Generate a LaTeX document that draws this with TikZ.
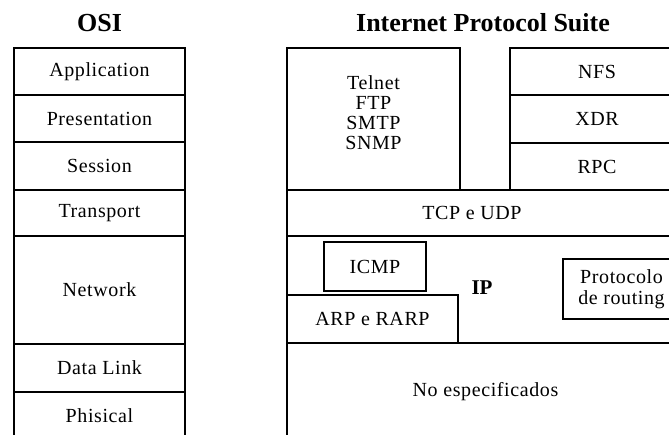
\documentclass[tikz,border=0pt]{standalone}
\usepackage{fontspec}
\setmainfont{Liberation Serif}
\newfontfamily\spaced{Liberation Serif}[LetterSpace=3]
\tikzset{%
    layer/.style={draw, rectangle, line width=2.2pt, inner sep=0pt,
        font=\spaced\fontsize{20}{21}\selectfont},
    txt/.style={inner sep=0pt, font=\spaced\fontsize{20}{20}\selectfont},
    head/.style={inner sep=0pt, font=\bfseries\fontsize{26}{30}\selectfont}
}

\begin{document}
\begin{tikzpicture}[x=1pt, y=-1pt]
  \useasboundingbox (0,0) rectangle (669,434);
  \clip (0,0) rectangle (669,434);

  \node[head] (osi) at (99.5,23) {OSI};
  \node[head] (ips) at (483,23) {Internet Protocol Suite};

  \node[layer, minimum width=171pt, minimum height=47pt] (app) at (99.5,71.5) {Application};
  \node[layer, minimum width=171pt, minimum height=47pt] (pres) at (99.5,118.5) {Presentation};
  \node[layer, minimum width=171pt, minimum height=48pt] (sess) at (99.5,166) {Session};
  \node[layer, minimum width=171pt, minimum height=46pt] (trans) at (99.5,213) {Transport};
  \node[layer, minimum width=171pt, minimum height=108pt] (net) at (99.5,290) {Network};
  \node[layer, minimum width=171pt, minimum height=48pt] (dl) at (99.5,368) {Data Link};
  \node[layer, minimum width=171pt, minimum height=48pt] (phy) at (99.5,416) {Phisical};

  \node[layer, minimum width=173pt, minimum height=142pt] (apl) at (373.5,119) {};
  \node[txt, align=center] (apltx) at (373.5,113) {Telnet\\FTP\\SMTP\\SNMP};
  \node[layer, minimum width=174pt, minimum height=47pt] (nfs) at (597,71.5) {NFS};
  \node[layer, minimum width=174pt, minimum height=48pt] (xdr) at (597,119) {XDR};
  \node[layer, minimum width=174pt, minimum height=47pt] (rpc) at (597,166.5) {RPC};

  \node[layer, minimum width=397pt, minimum height=46pt] (tcp) at (485.5,213) {};
  \node[txt] (tcptx) at (472,213) {TCP e UDP};

  \node[layer, minimum width=397pt, minimum height=107pt] (ip) at (485.5,289.5) {};
  \node[head, font=\bfseries\fontsize{21}{24}\selectfont] (iptx) at (482,288) {IP};
  \node[layer, minimum width=102pt, minimum height=49pt] (icmp) at (375,266.5) {ICMP};
  \node[layer, minimum width=171pt, minimum height=48pt] (arp) at (372.5,319) {ARP e RARP};
  \node[layer, minimum width=117pt, minimum height=60pt, align=center] (rout) at (621.5,289) {Protocolo\\de routing};

  \node[layer, minimum width=397pt, minimum height=97pt] (nesp) at (485.5,391.5) {No especificados};
\end{tikzpicture}
\end{document}
